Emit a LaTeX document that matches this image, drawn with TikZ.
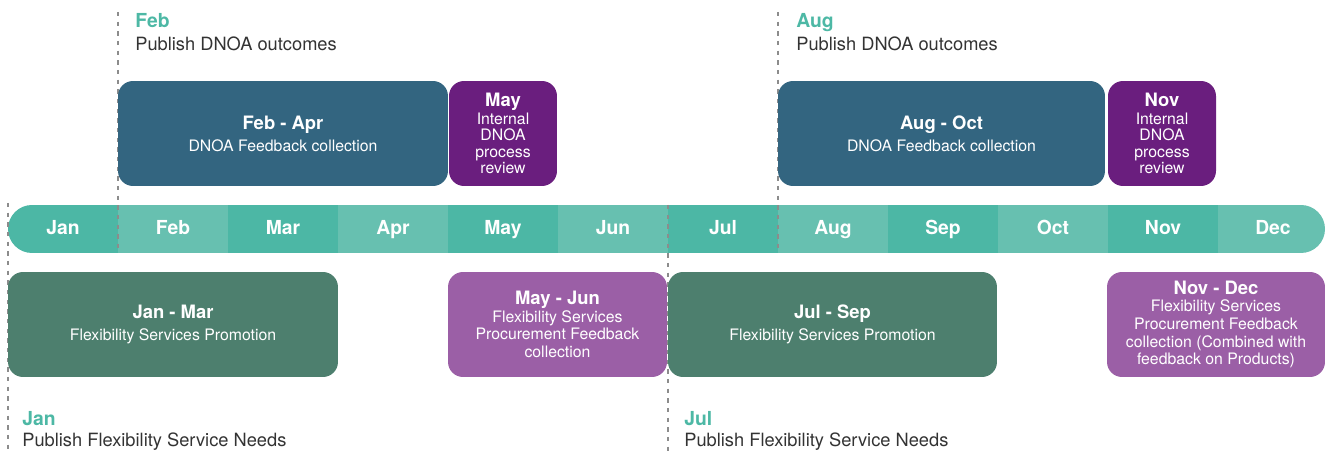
\documentclass[tikz,border=0pt]{standalone}
\usepackage{fontspec}
\setmainfont{TeX Gyre Heros}
\usepackage{xcolor}
\definecolor{bardark}{RGB}{76,183,165}
\definecolor{barlight}{RGB}{103,192,176}
\definecolor{markteal}{RGB}{77,184,165}
\definecolor{dnoablue}{RGB}{51,101,128}
\definecolor{reviewpurple}{RGB}{106,30,126}
\definecolor{flexgreen}{RGB}{77,127,110}
\definecolor{flexpurple}{RGB}{155,95,166}
\definecolor{notegray}{RGB}{51,51,51}
\usetikzlibrary{positioning}

\begin{document}
\begin{tikzpicture}[
        x=0.02cm, y=-0.02cm,
        month/.style={rectangle, minimum width=2.22cm, minimum height=0.96cm, inner sep=0pt, text height=1.5ex, text depth=0.3ex, text=white, font=\fontsize{11}{13}\selectfont\bfseries},
        phase/.style={rectangle, rounded corners=0.3cm, minimum height=2.1cm, inner sep=2pt, align=center, text=white, font=\fontsize{9}{10}\selectfont},
        narrow/.style={phase, minimum width=2.16cm, font=\fontsize{9}{9.4}\selectfont},
        guide/.style={draw=gray!90, line width=0.7pt, dash pattern=on 2.5pt off 3pt},
        markhead/.style={anchor=base west, inner sep=0pt, text=markteal, font=\fontsize{11}{13}\selectfont\bfseries},
        marknote/.style={anchor=base west, inner sep=0pt, text=notegray, font=\fontsize{10.4}{12}\selectfont}
    ]
        \newcommand{\phasetitle}[1]{{\fontsize{10.5}{12}\selectfont\bfseries #1}}
        \useasboundingbox (0,0) rectangle (1326,452);

        % timeline bar
        \begin{scope}
            \clip[rounded corners=0.48cm] (8,205) rectangle (1325,253);
            \foreach \m [count=\i from 0] in {Jan,Feb,Mar,Apr,May,Jun,Jul,Aug,Sep,Oct,Nov,Dec} {
                \ifodd\i \def\segcol{barlight}\else \def\segcol{bardark}\fi
                \node[month, fill=\segcol] (\m) at (63+110*\i, 229) {\m};
            }
        \end{scope}

        % milestone guides
        \coordinate (febtop) at (118,12);
        \coordinate (febend) at (118,253);
        \coordinate (augtop) at (778,12);
        \coordinate (augend) at (778,253);
        \coordinate (jantop) at (8,203);
        \coordinate (janend) at (8,452);
        \coordinate (jultop) at (668,205);
        \coordinate (julend) at (668,452);
        \draw[guide] (febtop) -- (febend);
        \draw[guide] (augtop) -- (augend);
        \draw[guide] (jantop) -- (janend);
        \draw[guide] (jultop) -- (julend);

        % milestone labels
        \node[markhead] (febhead) at (135,28) {Feb};
        \node[marknote] (febnote) at (135,51) {Publish DNOA outcomes};
        \node[markhead] (aughead) at (796,28) {Aug};
        \node[marknote] (augnote) at (796,51) {Publish DNOA outcomes};
        \node[markhead] (janhead) at (22,426) {Jan};
        \node[marknote] (jannote) at (22,447) {Publish Flexibility Service Needs};
        \node[markhead] (julhead) at (684,426) {Jul};
        \node[marknote] (julnote) at (684,447) {Publish Flexibility Service Needs};

        % DNOA phases
        \node[phase, fill=dnoablue, minimum width=6.6cm] (febapr) at (283,133.5) {\phasetitle{Feb - Apr}\\[2.5pt] DNOA Feedback collection};
        \node[narrow, fill=reviewpurple] (mayrev) at (503,133.5) {\phasetitle{May}\\[0.8pt] Internal\\ DNOA\\ process\\ review};
        \node[phase, fill=dnoablue, minimum width=6.54cm] (augoct) at (941.5,133.5) {\phasetitle{Aug - Oct}\\[2.5pt] DNOA Feedback collection};
        \node[narrow, fill=reviewpurple] (novrev) at (1162,133.5) {\phasetitle{Nov}\\[0.8pt] Internal\\ DNOA\\ process\\ review};

        % flexibility phases
        \node[phase, fill=flexgreen, minimum width=6.6cm] (janmar) at (173,324.5) {\phasetitle{Jan - Mar}\\[2.5pt] Flexibility Services Promotion};
        \node[phase, fill=flexpurple, minimum width=4.38cm] (mayjun) at (557.5,324.5) {\phasetitle{May - Jun}\\ Flexibility Services\\ Procurement Feedback\\ collection};
        \node[phase, fill=flexgreen, minimum width=6.58cm] (julsep) at (832.5,324.5) {\phasetitle{Jul - Sep}\\[2.5pt] Flexibility Services Promotion};
        \node[phase, fill=flexpurple, minimum width=4.36cm] (novdec) at (1216,324.5) {\phasetitle{Nov - Dec}\\ Flexibility Services\\ Procurement Feedback\\ collection (Combined with\\ feedback on Products)};
    \end{tikzpicture}
\end{document}
